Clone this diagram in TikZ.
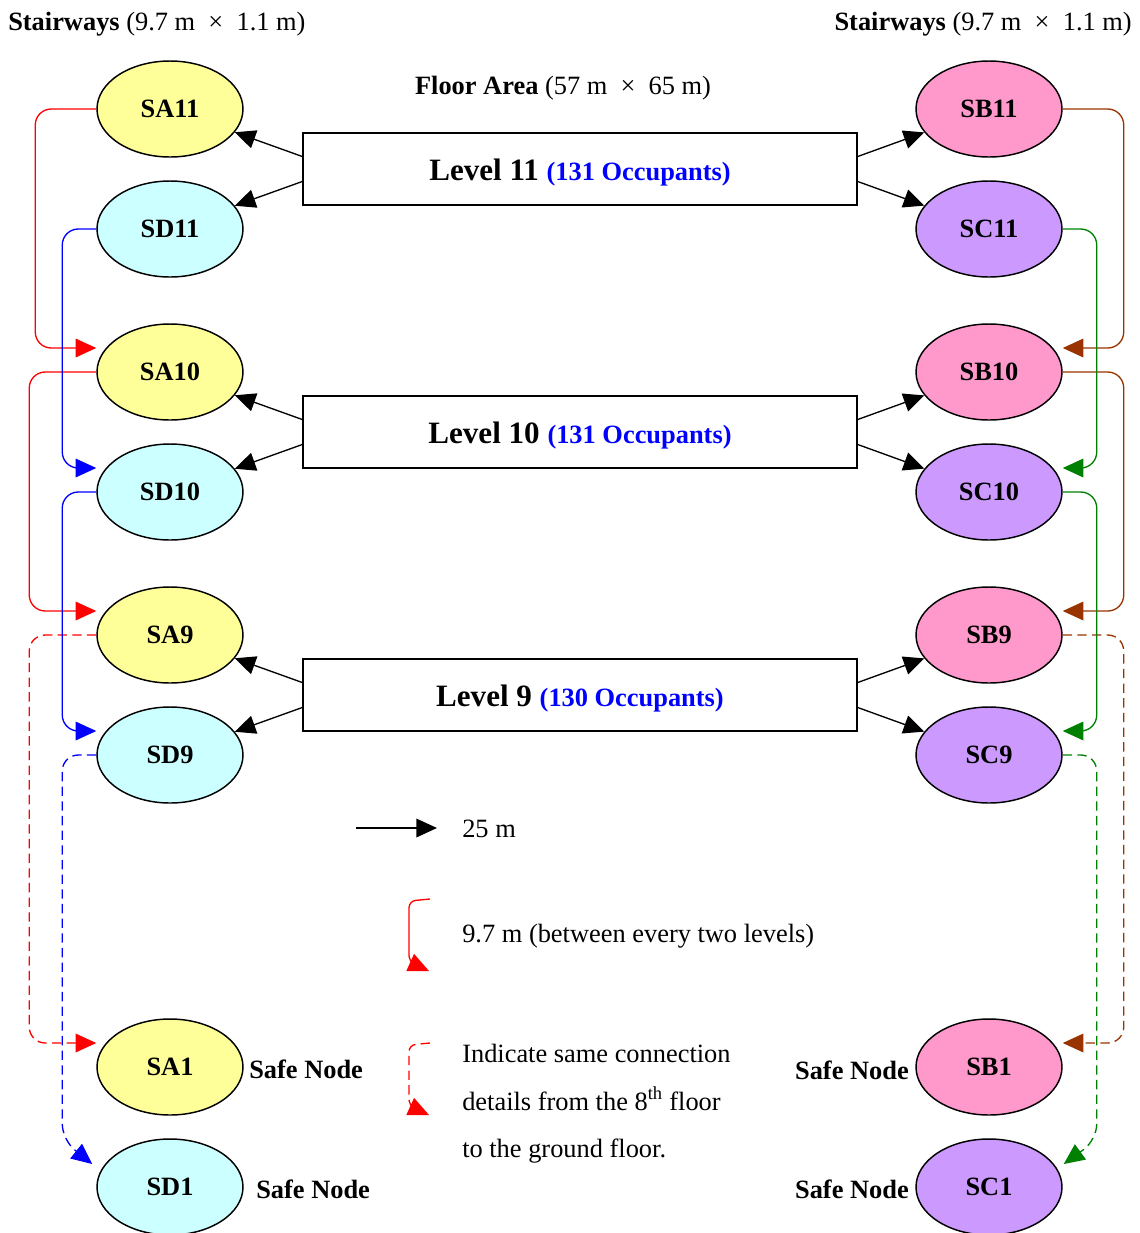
\documentclass[tikz,border=0pt]{standalone}
\usepackage{fontspec}
\setmainfont{Liberation Serif}
\usetikzlibrary{shapes.geometric,arrows.meta,calc}

\definecolor{fillA}{HTML}{FFFF99}
\definecolor{fillD}{HTML}{CCFFFF}
\definecolor{fillB}{HTML}{FF99CC}
\definecolor{fillC}{HTML}{CC99FF}
\definecolor{brownline}{HTML}{993300}
\definecolor{greenline}{HTML}{008000}

\newcommand\txtsize{\fontsize{19.8pt}{24pt}\selectfont}
\newcommand\lvlsize{\fontsize{23.3pt}{28pt}\selectfont}

\begin{document}
\begin{tikzpicture}[x=0.75pt, y=-0.75pt,
  stair/.style={ellipse, draw=black, line width=1.1pt, minimum width=109.5pt,
    minimum height=72pt, inner sep=0pt, font=\txtsize\bfseries},
  levelbox/.style={draw=black, line width=1.1pt, minimum width=415.5pt,
    minimum height=54pt, inner sep=0pt},
  headed/.style={-{Triangle[length=15.5pt,width=14pt]}},
  feed/.style={headed, line width=1pt},
  link/.style={headed, line width=1pt, rounded corners=12pt},
  later/.style={link, dash pattern=on 7pt off 4pt},
  txt/.style={inner sep=0pt, font=\txtsize},
  safe/.style={inner sep=0pt, font=\txtsize\bfseries},
]
\useasboundingbox (0,0) rectangle (1140,1233);

% headings
\node[txt, anchor=base west] (headL) at (8,30)
  {\textbf{Stairways} (9.7 m\enspace×\enspace1.1 m)};
\node[txt, anchor=base east] (headR) at (1132,30)
  {\textbf{Stairways} (9.7 m\enspace×\enspace1.1 m)};
\node[txt, anchor=base] (headF) at (563,94)
  {\textbf{Floor Area} (57 m\enspace×\enspace65 m)};

% stairway nodes, left side
\node[stair, fill=fillA] (SA11) at (170,109) {SA11};
\node[stair, fill=fillD] (SD11) at (170,229) {SD11};
\node[stair, fill=fillA] (SA10) at (170,372) {SA10};
\node[stair, fill=fillD] (SD10) at (170,492) {SD10};
\node[stair, fill=fillA] (SA9)  at (170,635) {SA9};
\node[stair, fill=fillD] (SD9)  at (170,755) {SD9};
\node[stair, fill=fillA] (SA1)  at (170,1067) {SA1};
\node[stair, fill=fillD] (SD1)  at (170,1187) {SD1};

% stairway nodes, right side
\node[stair, fill=fillB] (SB11) at (989,109) {SB11};
\node[stair, fill=fillC] (SC11) at (989,229) {SC11};
\node[stair, fill=fillB] (SB10) at (989,372) {SB10};
\node[stair, fill=fillC] (SC10) at (989,492) {SC10};
\node[stair, fill=fillB] (SB9)  at (989,635) {SB9};
\node[stair, fill=fillC] (SC9)  at (989,755) {SC9};
\node[stair, fill=fillB] (SB1)  at (989,1067) {SB1};
\node[stair, fill=fillC] (SC1)  at (989,1187) {SC1};

% floor boxes
\node[levelbox] (L11) at (580,169) {};
\node[levelbox] (L10) at (580,432) {};
\node[levelbox] (L9)  at (580,695) {};
\node[txt, anchor=base] (L11t) at ($(L11.center)+(0,11)$)
  {\lvlsize\bfseries Level 11 \textcolor{blue}{\txtsize(131 Occupants)}};
\node[txt, anchor=base] (L10t) at ($(L10.center)+(0,11)$)
  {\lvlsize\bfseries Level 10 \textcolor{blue}{\txtsize(131 Occupants)}};
\node[txt, anchor=base] (L9t) at ($(L9.center)+(0,11)$)
  {\lvlsize\bfseries Level 9 \textcolor{blue}{\txtsize(130 Occupants)}};

% floor to stairway
\foreach \lv/\a/\d/\b/\c in {L11/SA11/SD11/SB11/SC11, L10/SA10/SD10/SB10/SC10, L9/SA9/SD9/SB9/SC9}{
  \draw[feed] ($(\lv.west)+(0,-12.5)$) -- (\a);
  \draw[feed] ($(\lv.west)+(0,12.5)$) -- (\d);
  \draw[feed] ($(\lv.east)+(0,-12.5)$) -- (\b);
  \draw[feed] ($(\lv.east)+(0,12.5)$) -- (\c);
}

% stairway A (red)
\draw[link, red] (SA11.west) -- ++(-61,0) |- ($(SA10.west)+(0,-24)$);
\draw[link, red] (SA10.west) -- ++(-67,0) |- ($(SA9.west)+(0,-24)$);
\draw[later, red] (SA9.west) -- ++(-67,0) |- ($(SA1.west)+(0,-24)$);

% stairway D (blue)
\draw[link, blue] (SD11.west) -- ++(-34,0) |- ($(SD10.west)+(0,-24)$);
\draw[link, blue] (SD10.west) -- ++(-34,0) |- ($(SD9.west)+(0,-24)$);
\draw[later, blue] (SD9.west) -- ++(-34,0) -- ++(0,385) -- ($(SD1.west)+(-4,-23)$);

% stairway B (brown)
\draw[link, brownline] (SB11.east) -- ++(61,0) |- ($(SB10.east)+(0,-24)$);
\draw[link, brownline] (SB10.east) -- ++(61,0) |- ($(SB9.east)+(0,-24)$);
\draw[later, brownline] (SB9.east) -- ++(61,0) |- ($(SB1.east)+(0,-24)$);

% stairway C (green)
\draw[link, greenline] (SC11.east) -- ++(34,0) |- ($(SC10.east)+(0,-24)$);
\draw[link, greenline] (SC10.east) -- ++(34,0) |- ($(SC9.east)+(0,-24)$);
\draw[later, greenline] (SC9.east) -- ++(34,0) -- ++(0,385) -- ($(SC1.east)+(1,-23)$);

% safe nodes
\node[safe, anchor=base west] (safeA) at (249,1078) {Safe Node};
\node[safe, anchor=base west] (safeD) at (256,1198) {Safe Node};
\node[safe, anchor=base east] (safeB) at (909,1079) {Safe Node};
\node[safe, anchor=base east] (safeC) at (909,1198) {Safe Node};

% key
\coordinate (keyA0) at (356,828);
\coordinate (keyA1) at (437,828);
\draw[feed] (keyA0) -- (keyA1);
\node[txt, anchor=base west] (keyAt) at (462,837) {25 m};

\coordinate (keyB0) at (430,899);
\coordinate (keyB1) at (429,971);
\draw[link, red, rounded corners=5pt] (keyB0) -- (409,901) -- (409,962) -- (keyB1);
\node[txt, anchor=base west] (keyBt) at (462,942) {9.7 m (between every two levels)};

\coordinate (keyC0) at (430,1043);
\coordinate (keyC1) at (429,1115);
\draw[later, red, rounded corners=5pt] (keyC0) -- (409,1045) -- (409,1106) -- (keyC1);
\node[txt, anchor=base west] (keyCt1) at (462,1062) {Indicate same connection};
\node[txt, anchor=base west] (keyCt2) at (462,1110) {details from the 8\textsuperscript{th} floor};
\node[txt, anchor=base west] (keyCt3) at (462,1157) {to the ground floor.};
\end{tikzpicture}
\end{document}
